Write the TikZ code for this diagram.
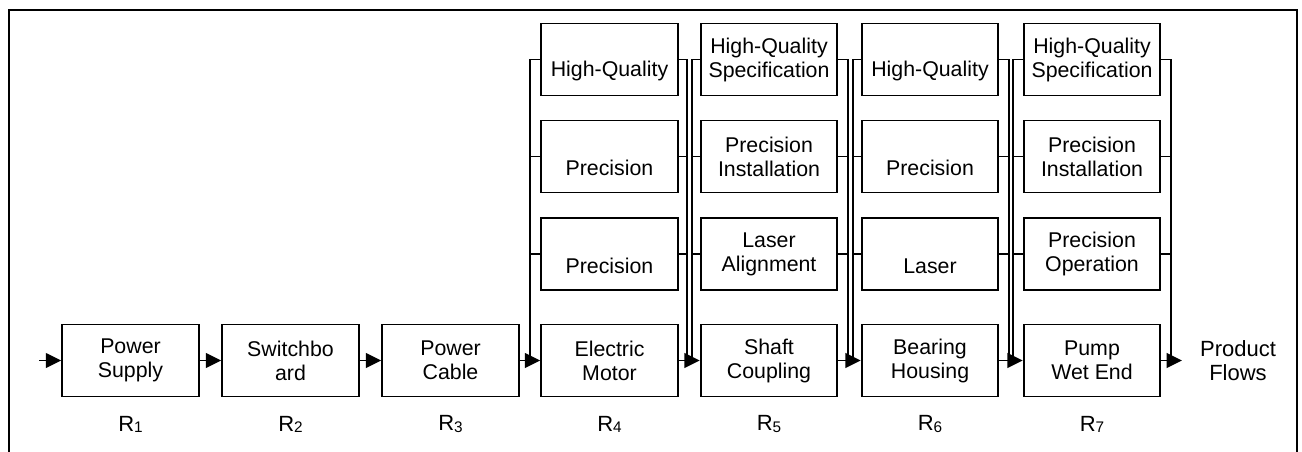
\documentclass[tikz,border=0pt]{standalone}
\usepackage{fontspec}
\setmainfont{Liberation Sans}
\usetikzlibrary{arrows.meta,calc}
\newcommand\lowtext[1]{\phantom{X}\\#1}
\newcommand\rsub[1]{R\raisebox{-0.8pt}{\fontsize{11.5}{12}\selectfont #1}}
\begin{document}
\begin{tikzpicture}[x=0.75pt,y=-0.75pt,
  box/.style={draw,line width=1.4pt,minimum width=102.5pt,minimum height=54pt,inner sep=1pt,align=center,font=\fontsize{16}{18}\selectfont},
  conn/.style={line width=1.2pt},
  flow/.style={line width=1.2pt,-{Triangle[length=11.5pt,width=11pt]}},
  lbl/.style={font=\fontsize{16.5}{18}\selectfont,align=center}]
\useasboundingbox (0,0) rectangle (1302,452);
\draw[line width=1.6pt] (9,452) -- (9,10) -- (1297,10) -- (1297,452);

% bottom row
\node[box] (b1) at (130.5,360.5) {Power\\Supply};
\node[box] (b2) at (290.5,360.5) {Switchbo\\ard};
\node[box] (b3) at (450.5,360.5) {Power\\Cable};
\node[box] (b4) at (609.5,360.5) {Electric\\Motor};
\node[box] (b5) at (769,360.5) {Shaft\\Coupling};
\node[box] (b6) at (930,360.5) {Bearing\\Housing};
\node[box] (b7) at (1092,360.5) {Pump\\Wet End};

% upper rows
\node[box] (u41) at (609.5,59.5) {\lowtext{High-Quality}};
\node[box] (u42) at (609.5,156.5) {\lowtext{Precision}};
\node[box] (u43) at (609.5,254) {\lowtext{Precision}};
\node[box] (u51) at (769,59.5) {High-Quality\\Specification};
\node[box] (u52) at (769,156.5) {Precision\\Installation};
\node[box] (u53) at (769,254) {Laser\\Alignment};
\node[box] (u61) at (930,59.5) {\lowtext{High-Quality}};
\node[box] (u62) at (930,156.5) {\lowtext{Precision}};
\node[box] (u63) at (930,254) {\lowtext{Laser}};
\node[box] (u71) at (1092,59.5) {High-Quality\\Specification};
\node[box] (u72) at (1092,156.5) {Precision\\Installation};
\node[box] (u73) at (1092,254) {Precision\\Operation};

% labels
\node[lbl] (r1) at (130.5,424) {\rsub{1}};
\node[lbl] (r2) at (290.5,424) {\rsub{2}};
\node[lbl] (r3) at (450.5,424) {\rsub{3}};
\node[lbl] (r4) at (609.5,424) {\rsub{4}};
\node[lbl] (r5) at (769,424) {\rsub{5}};
\node[lbl] (r6) at (930,424) {\rsub{6}};
\node[lbl] (r7) at (1092,424) {\rsub{7}};
\node[lbl] (pf) at (1238,360.5) {Product\\Flows};

% collectors
\draw[conn] (u41.west) -- ++(-10,0) coordinate (l4) -- (l4 |- b4.west);
\draw[conn] (u42.west) -- (u42.west -| l4);
\draw[conn] (u43.west) -- (u43.west -| l4);
\draw[conn] (u41.east) -- ++(8,0) coordinate (r4c) -- (r4c |- b4.east);
\draw[conn] (u42.east) -- (u42.east -| r4c);
\draw[conn] (u43.east) -- (u43.east -| r4c);

\draw[conn] (u51.west) -- ++(-8,0) coordinate (l5) -- (l5 |- b5.west);
\draw[conn] (u52.west) -- (u52.west -| l5);
\draw[conn] (u53.west) -- (u53.west -| l5);
\draw[conn] (u51.east) -- ++(10,0) coordinate (r5c) -- (r5c |- b5.east);
\draw[conn] (u52.east) -- (u52.east -| r5c);
\draw[conn] (u53.east) -- (u53.east -| r5c);

\draw[conn] (u61.west) -- ++(-8,0) coordinate (l6) -- (l6 |- b6.west);
\draw[conn] (u62.west) -- (u62.west -| l6);
\draw[conn] (u63.west) -- (u63.west -| l6);
\draw[conn] (u61.east) -- ++(10,0) coordinate (r6c) -- (r6c |- b6.east);
\draw[conn] (u62.east) -- (u62.east -| r6c);
\draw[conn] (u63.east) -- (u63.east -| r6c);

\draw[conn] (u71.west) -- ++(-10,0) coordinate (l7) -- (l7 |- b7.west);
\draw[conn] (u72.west) -- (u72.west -| l7);
\draw[conn] (u73.west) -- (u73.west -| l7);
\draw[conn] (u71.east) -- ++(10,0) coordinate (r7c) -- (r7c |- b7.east);
\draw[conn] (u72.east) -- (u72.east -| r7c);
\draw[conn] (u73.east) -- (u73.east -| r7c);

% flow arrows
\coordinate (in) at (39,360.5);
\coordinate (out) at (1182,360.5);
\draw[flow] (in) -- (b1.west);
\draw[flow] (b1.east) -- (b2.west);
\draw[flow] (b2.east) -- (b3.west);
\draw[flow] (b3.east) -- (b4.west);
\draw[flow] (b4.east) -- (b5.west);
\draw[flow] (b5.east) -- (b6.west);
\draw[flow] (b6.east) -- (b7.west);
\draw[flow] (b7.east) -- (out);
\end{tikzpicture}
\end{document}
